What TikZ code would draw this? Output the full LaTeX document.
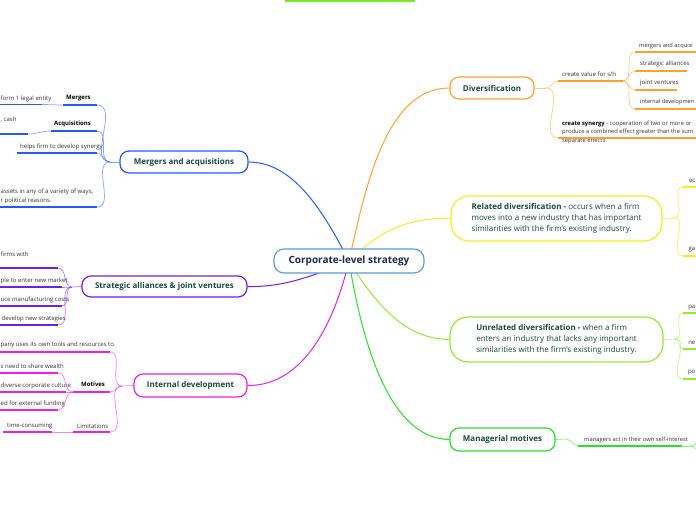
\documentclass[tikz,border=0pt]{standalone}
\usepackage{fontspec}
\setmainfont{Open Sans}
\usetikzlibrary{backgrounds}
\definecolor{cblue}{RGB}{34,90,255}
\definecolor{cpurple}{RGB}{110,30,240}
\definecolor{cmag}{RGB}{235,30,235}
\definecolor{corange}{RGB}{255,160,40}
\definecolor{cyellow}{RGB}{240,240,30}
\definecolor{clime}{RGB}{150,235,50}
\definecolor{cgreen}{RGB}{40,225,40}
\definecolor{ctop}{RGB}{120,235,40}
\definecolor{cctr}{RGB}{90,155,215}
\definecolor{ctrtext}{RGB}{28,42,77}
\definecolor{ntext}{RGB}{28,72,60}
\definecolor{ltext}{RGB}{50,50,50}
\newcommand\ctrfont{\fontsize{10}{12}\selectfont\bfseries}
\newcommand\mainfnt{\fontsize{8}{10}\selectfont\bfseries}
\newcommand\descfnt{\fontsize{8}{11}\selectfont}
\newcommand\lf{\fontsize{6}{8.3}\selectfont}
\tikzset{
  mainnode/.style={draw, line width=1.2pt, fill=white, rounded corners=9pt, inner sep=0pt,
    font=\mainfnt, text=ntext, align=center},
  leaf/.style={font=\lf, text=ltext, inner sep=0pt},
  ul/.style={line width=1.7pt},
  br/.style={line width=0.7pt, draw opacity=0.55},
  cb/.style={line width=1pt}
}
\begin{document}
\begin{tikzpicture}[x=1pt,y=-1pt]
\clip (0,0) rectangle (696,520);
% top bar
\coordinate (tb1) at (285,0.6);
\coordinate (tb2) at (415,0.6);
\draw[ctop, line width=1.8pt] (tb1) -- (tb2);

% centre and main nodes
\node[draw=cctr, line width=1.1pt, fill=white, rounded corners=10pt, minimum width=150pt, minimum height=24pt, inner sep=0pt, font=\ctrfont, text=ctrtext] (cs) at (349,261) {Corporate-level strategy};
\node[mainnode, draw=cblue, minimum width=128pt, minimum height=22pt] (ma) at (184,162) {Mergers and acquisitions};
\node[mainnode, draw=cpurple, minimum width=165pt, minimum height=21pt] (sa) at (164.5,286.5) {Strategic alliances \& joint ventures};
\node[mainnode, draw=cmag, minimum width=113pt, minimum height=23pt] (idv) at (190.5,385.5) {Internal development};
\node[mainnode, draw=corange, minimum width=84pt, minimum height=22pt] (dv) at (492,88) {Diversification};
\node[mainnode, draw=cyellow, minimum width=211pt, minimum height=45pt, rounded corners=18pt, align=left, font=\descfnt] (rd) at (556.5,218.5) {\textbf{Related diversification -} occurs when a firm\\moves into a new industry that has important\\similarities with the firm's existing industry.};
\node[mainnode, draw=clime, minimum width=213pt, minimum height=45pt, rounded corners=18pt, align=left, font=\descfnt] (ud) at (556.5,339.5) {\textbf{Unrelated diversification -} when a firm\\enters an industry that lacks any important\\similarities with the firm's existing industry.};
\node[mainnode, draw=cgreen, minimum width=105pt, minimum height=23pt] (mm) at (502.5,439.5) {Managerial motives};

% connectors from centre (behind nodes)
\begin{scope}[on background layer]
\fill[white] (0,0) rectangle (696,520);
\draw[cb, cblue] (cs.center) .. controls (325,215) and (295,162) .. (ma.east);
\draw[cb, cpurple] (cs.center) .. controls (300,282) and (275,287) .. (sa.east);
\draw[cb, cmag] (cs.center) .. controls (330,340) and (295,386) .. (idv.east);
\draw[cb, corange] (cs.center) .. controls (365,190) and (385,88) .. (dv.west);
\draw[cb, cyellow] (cs.center) .. controls (385,225) and (415,218) .. (rd.west);
\draw[cb, clime] (cs.center) .. controls (385,320) and (415,339) .. (ud.west);
\draw[cb, cgreen] (cs.center) .. controls (365,360) and (395,439) .. (mm.west);
\end{scope}

% ===== Mergers and acquisitions (blue)
\coordinate (maT) at (110,162);
\node[leaf, anchor=west, font=\lf\bfseries, text=black] (mg) at (66,98) {Mergers};
\node[leaf, anchor=west] (mg1) at (0.5,99) {form 1 legal entity};
\node[leaf, anchor=west, font=\lf\bfseries, text=black] (aq) at (54,124) {Acquisitions};
\node[leaf, anchor=west] (aq1) at (0.5,120) {, cash};
\node[leaf, anchor=west] (syn) at (20,147) {helps firm to develop synergy};
\node[leaf, anchor=north west, align=left] (ast) at (0.5,189) {assets in any of a variety of ways,\\r political reasons.};
\coordinate (mgL) at (63,105); \coordinate (mgR) at (97,105);
\coordinate (mg1L) at (0,104.5); \coordinate (mg1R) at (42,104.5);
\coordinate (aqL) at (51,131); \coordinate (aqR) at (97,131);
\coordinate (aq1L) at (0,134); \coordinate (aq1R) at (28,134);
\coordinate (synL) at (17,153); \coordinate (synR) at (97,153);
\coordinate (astL) at (0,207); \coordinate (astR) at (97,207);
\begin{scope}[cblue]
\draw[ul] (mgL) -- (mgR); \draw[ul] (mg1L) -- (mg1R);
\draw[ul] (aqL) -- (aqR); \draw[ul] (aq1L) -- (aq1R);
\draw[ul] (synL) -- (synR); \draw[ul] (astL) -- (astR);
\draw[br] (ma.west) -- (maT);
\draw[br] (maT) to[out=180,in=0] (mgR);
\draw[br] (maT) to[out=180,in=0] (aqR);
\draw[br] (maT) to[out=180,in=0] (synR);
\draw[br] (maT) to[out=180,in=0] (astR);
\draw[br] (mgL) to[out=180,in=0] (mg1R);
\draw[br] (aqL) to[out=180,in=0] (aq1R);
\end{scope}

% ===== Strategic alliances (purple)
\coordinate (saT) at (72,287);
\node[leaf, anchor=west] (s1) at (0.5,254) {firms with};
\node[leaf, anchor=west] (s2) at (0.5,281) {ple to enter new market};
\node[leaf, anchor=west] (s3) at (0.5,300) {uce manufacturing costs};
\node[leaf, anchor=west] (s4) at (1.5,319) {develop new strategies};
\coordinate (s1L) at (0,268); \coordinate (s1R) at (58,268);
\coordinate (s2L) at (0,287); \coordinate (s2R) at (62,287);
\coordinate (s3L) at (0,306); \coordinate (s3R) at (62,306);
\coordinate (s4L) at (0,325); \coordinate (s4R) at (58,325);
\begin{scope}[cpurple]
\draw[ul] (s1L) -- (s1R); \draw[ul] (s2L) -- (s2R);
\draw[ul] (s3L) -- (s3R); \draw[ul] (s4L) -- (s4R);
\draw[br] (sa.west) -- (saT);
\draw[br] (saT) to[out=180,in=0] (s1R);
\draw[br] (saT) to[out=180,in=0] (s2R);
\draw[br] (saT) to[out=180,in=0] (s3R);
\draw[br] (saT) to[out=180,in=0] (s4R);
\end{scope}

% ===== Internal development (magenta)
\coordinate (idT) at (122,386);
\node[leaf, anchor=west] (i1) at (0.5,345) {pany uses its own tools and resources to};
\node[leaf, anchor=west, font=\lf\bfseries, text=black] (mot) at (81,384) {Motives};
\node[leaf, anchor=west] (m1) at (0.5,366) {s need to share wealth};
\node[leaf, anchor=west] (m2) at (0.5,386) {diverse corporate culture};
\node[leaf, anchor=west] (m3) at (0.5,404) {ed for external funding};
\node[leaf, anchor=west] (lim) at (77,426) {Limitations};
\node[leaf, anchor=west] (tc) at (7,426) {time-consuming};
\coordinate (i1L) at (0,352); \coordinate (i1R) at (110,352);
\coordinate (motL) at (73,392); \coordinate (motR) at (110,392);
\coordinate (m1L) at (0,373); \coordinate (m1R) at (58,373);
\coordinate (m2L) at (0,392); \coordinate (m2R) at (66,392);
\coordinate (m3L) at (0,410); \coordinate (m3R) at (58,410);
\coordinate (limL) at (73,432); \coordinate (limR) at (110,432);
\coordinate (tcL) at (3,432); \coordinate (tcR) at (52,432);
\begin{scope}[cmag]
\draw[ul] (i1L) -- (i1R); \draw[ul] (motL) -- (motR);
\draw[ul] (m1L) -- (m1R); \draw[ul] (m2L) -- (m2R); \draw[ul] (m3L) -- (m3R);
\draw[ul] (limL) -- (limR); \draw[ul] (tcL) -- (tcR);
\draw[br] (idv.west) -- (idT);
\draw[br] (idT) to[out=180,in=0] (i1R);
\draw[br] (idT) to[out=180,in=0] (motR);
\draw[br] (idT) to[out=180,in=0] (limR);
\draw[br] (motL) to[out=180,in=0] (m1R);
\draw[br] (motL) to[out=180,in=0] (m2R);
\draw[br] (motL) to[out=180,in=0] (m3R);
\draw[br] (limL) -- (tcR);
\end{scope}

% ===== Diversification (orange)
\coordinate (dvT) at (546,88);
\node[leaf, anchor=west] (cv) at (562,74) {create value for s/h};
\node[leaf, anchor=west, font=\fontsize{5.7}{8}\selectfont] (o1) at (639,46) {mergers and acquisi};
\node[leaf, anchor=west] (o2) at (640,64) {strategic alliances};
\node[leaf, anchor=west] (o3) at (640,83) {joint ventures};
\node[leaf, anchor=west, font=\fontsize{5.6}{8}\selectfont] (o4) at (640,102) {internal developmen};
\node[leaf, anchor=north west, align=left, font=\fontsize{5.8}{8.3}\selectfont] (csy) at (562,121) {\textbf{\color{black}create synergy} - cooperation of two or more or\\produce a combined effect greater than the sum\\separate effects.};
\coordinate (cvL) at (558,81); \coordinate (cvR) at (623,81);
\coordinate (o1L) at (635,52); \coordinate (o1R) at (700,52);
\coordinate (o2L) at (635,71); \coordinate (o2R) at (687,71);
\coordinate (o3L) at (635,90); \coordinate (o3R) at (677,90);
\coordinate (o4L) at (635,109); \coordinate (o4R) at (700,109);
\coordinate (csL) at (558,138); \coordinate (csR) at (700,138);
\begin{scope}[corange]
\draw[ul] (cvL) -- (cvR); \draw[ul] (o1L) -- (o1R); \draw[ul] (o2L) -- (o2R);
\draw[ul] (o3L) -- (o3R); \draw[ul] (o4L) -- (o4R); \draw[ul] (csL) -- (csR);
\draw[br] (dv.east) -- (dvT);
\draw[br] (dvT) to[out=0,in=180] (cvL);
\draw[br] (dvT) to[out=0,in=180] (csL);
\draw[br] (cvR) to[out=0,in=180] (o1L);
\draw[br] (cvR) to[out=0,in=180] (o2L);
\draw[br] (cvR) to[out=0,in=180] (o3L);
\draw[br] (cvR) to[out=0,in=180] (o4L);
\end{scope}

% ===== Related diversification (yellow)
\coordinate (rdT) at (674,218);
\node[leaf, anchor=east] (y1) at (695.5,181) {ec};
\node[leaf, anchor=east] (y2) at (695.5,250) {ga};
\coordinate (y1L) at (683,187); \coordinate (y1R) at (700,187);
\coordinate (y2L) at (683,256); \coordinate (y2R) at (700,256);
\begin{scope}[cyellow]
\draw[ul] (y1L) -- (y1R); \draw[ul] (y2L) -- (y2R);
\draw[br, draw opacity=0.8] (rd.east) -- (rdT);
\draw[br, draw opacity=0.8] (rdT) to[out=0,in=180] (y1L);
\draw[br, draw opacity=0.8] (rdT) to[out=0,in=180] (y2L);
\end{scope}

% ===== Unrelated diversification (lime)
\coordinate (udT) at (675,339);
\node[leaf, anchor=east] (g1) at (695.5,308) {pa};
\node[leaf, anchor=east] (g2) at (695.5,343) {ne};
\node[leaf, anchor=east] (g3) at (695.5,373) {po};
\coordinate (g1L) at (683,313); \coordinate (g1R) at (700,313);
\coordinate (g2L) at (683,349); \coordinate (g2R) at (700,349);
\coordinate (g3L) at (683,379); \coordinate (g3R) at (700,379);
\begin{scope}[clime]
\draw[ul] (g1L) -- (g1R); \draw[ul] (g2L) -- (g2R); \draw[ul] (g3L) -- (g3R);
\draw[br] (ud.east) -- (udT);
\draw[br] (udT) to[out=0,in=180] (g1L);
\draw[br] (udT) to[out=0,in=180] (g2L);
\draw[br] (udT) to[out=0,in=180] (g3L);
\end{scope}

% ===== Managerial motives (green)
\coordinate (mmT) at (566,439);
\node[leaf, anchor=west, font=\fontsize{5.8}{8}\selectfont] (sf) at (584,440) {managers act in their own self-interest};
\coordinate (sfL) at (578,446); \coordinate (sfR) at (682,446);
\coordinate (sfE) at (690,446);
\coordinate (mx1) at (698,418); \coordinate (mx2) at (698,472);
\begin{scope}[cgreen]
\draw[ul] (sfL) -- (sfR);
\draw[br] (mm.east) -- (mmT);
\draw[br] (mmT) to[out=0,in=180] (sfL);
\draw[br] (sfR) -- (sfE);
\draw[br] (sfE) to[out=0,in=270] (mx1);
\draw[br] (sfE) to[out=0,in=90] (mx2);
\end{scope}
\end{tikzpicture}
\end{document}
